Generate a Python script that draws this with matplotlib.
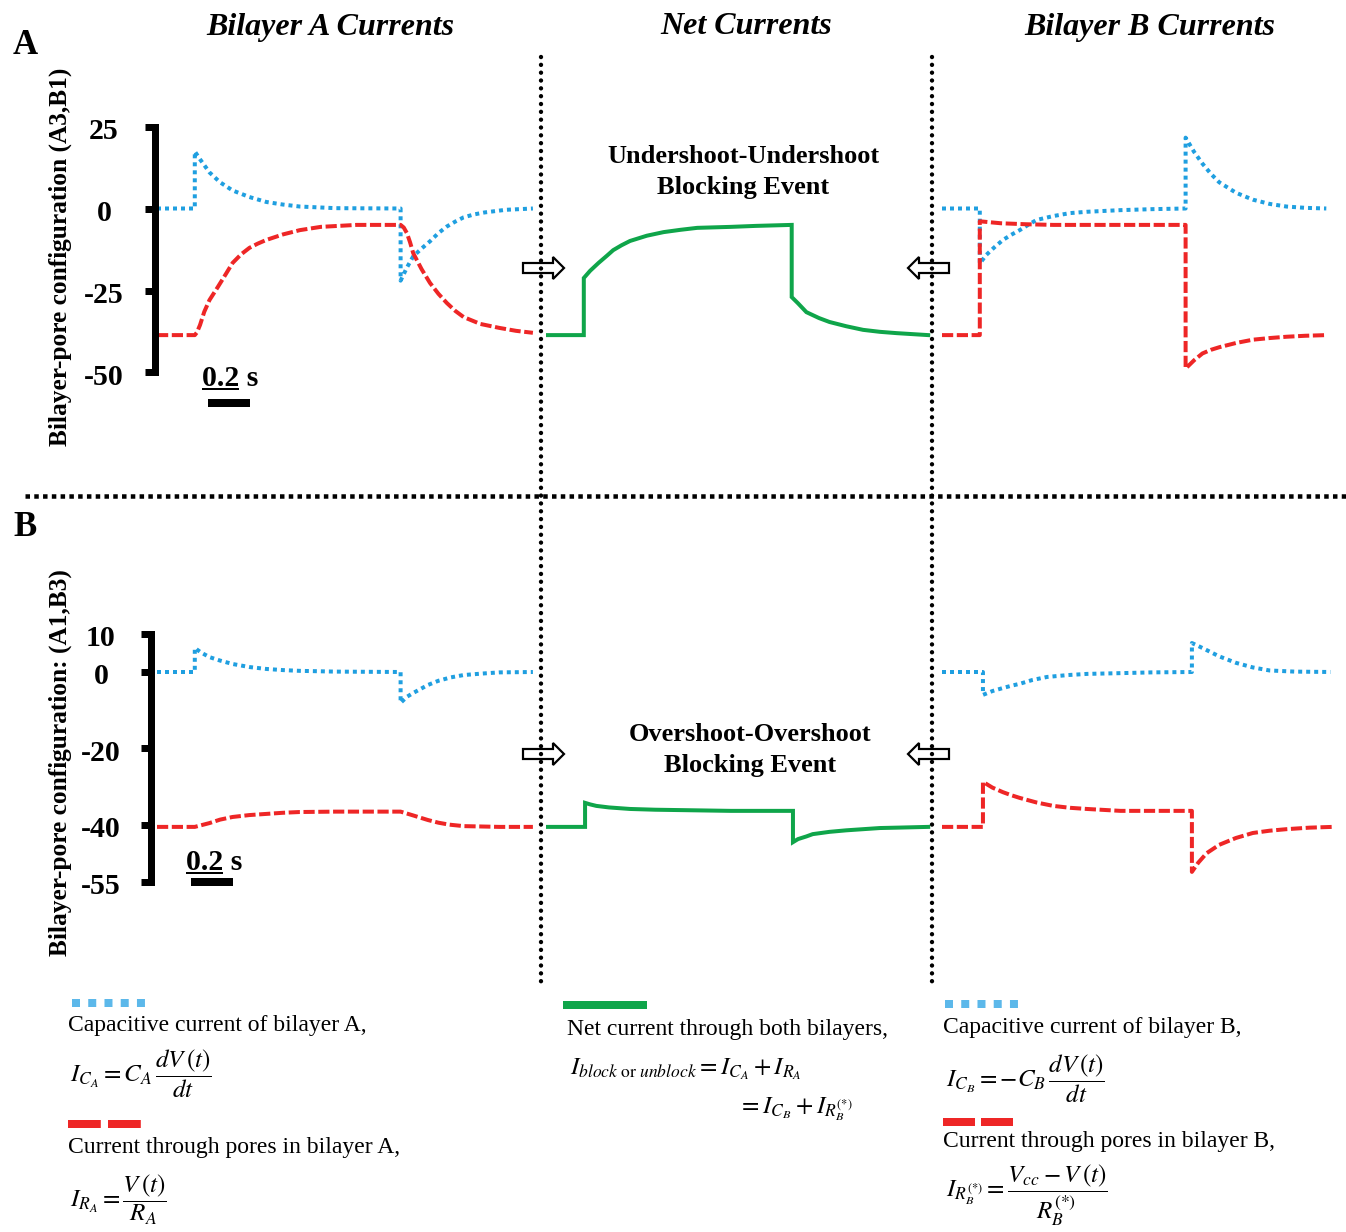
import matplotlib.pyplot as plt
import matplotlib.transforms as mtransforms
from matplotlib.patches import FancyArrow

plt.rcParams['font.family'] = ['Liberation Serif', 'DejaVu Serif']
plt.rcParams['mathtext.fontset'] = 'stix'

# ---- values: time (s) from trace start, current ----
# Panel A, configuration (A3,B1): undershoot-undershoot blocking event
a_ticks = [25, 0, -25, -50]
a_capA_t = [0, 0.18, 0.18, 0.205, 0.25, 0.30, 0.36, 0.44, 0.52, 0.60, 0.68, 0.85, 1.16,
            1.16, 1.19, 1.22, 1.26, 1.30, 1.34, 1.38, 1.42, 1.46, 1.51, 1.56, 1.66, 1.79]
a_capA_i = [0, 0, 17.4, 15.0, 11.0, 8.0, 5.5, 3.5, 2.0, 1.2, 0.6, 0.1, 0,
            -22.0, -18.0, -14.6, -12.2, -10.0, -7.5, -5.5, -4.0, -2.7, -1.8, -1.2, -0.4, 0]
a_poreA_t = [0, 0.18, 0.19, 0.205, 0.225, 0.25, 0.29, 0.32, 0.36, 0.40, 0.44, 0.48, 0.52, 0.60,
             0.68, 0.78, 0.95, 1.16, 1.175, 1.19, 1.205, 1.22, 1.26, 1.30, 1.34, 1.38, 1.42,
             1.46, 1.54, 1.63, 1.71, 1.79]
a_poreA_i = [-38.6, -38.6, -37.8, -35.5, -31.5, -27.9, -23.9, -20.8, -16.6, -14.0, -12.0, -10.7,
             -9.6, -7.9, -6.6, -5.6, -5.0, -5.0, -5.8, -7.5, -10.3, -13.6, -18.5, -22.7, -26.0,
             -28.8, -31.2, -33.1, -35.2, -36.4, -37.3, -37.9]
a_net_t = [0, 0.18, 0.18, 0.21, 0.25, 0.29, 0.32, 0.36, 0.40, 0.48, 0.56, 0.64, 0.72, 0.88, 1.00,
           1.17, 1.17, 1.20, 1.24, 1.30, 1.35, 1.43, 1.51, 1.59, 1.67, 1.82]
a_net_i = [-38.6, -38.6, -21.2, -19.0, -16.6, -14.4, -12.7, -11.2, -9.9, -8.3, -7.2, -6.5, -5.9,
           -5.6, -5.3, -5.0, -27.0, -28.9, -31.6, -33.4, -34.6, -35.9, -37.0, -37.6, -38.0, -38.6]
a_capB_t = [0, 0.18, 0.18, 0.21, 0.25, 0.29, 0.33, 0.37, 0.41, 0.45, 0.53, 0.61, 0.69, 0.85, 1.00,
            1.16, 1.16, 1.20, 1.24, 1.28, 1.32, 1.40, 1.48, 1.56, 1.64, 1.73, 1.83]
a_capB_i = [0, 0, -16.8, -14.2, -11.8, -9.6, -8.0, -6.6, -5.0, -3.5, -2.3, -1.4, -1.0, -0.5, -0.2,
            0, 21.6, 17.3, 13.7, 10.6, 8.0, 4.8, 2.7, 1.4, 0.6, 0.2, 0]
a_poreB_t = [0, 0.18, 0.18, 0.23, 0.28, 0.40, 0.53, 1.16, 1.16, 1.20, 1.24, 1.28, 1.32, 1.40,
             1.48, 1.56, 1.64, 1.73, 1.83]
a_poreB_i = [-38.6, -38.6, -3.9, -4.2, -4.5, -4.8, -5.0, -5.0, -48.8, -46.3, -44.2, -43.1, -42.3,
             -41.0, -40.0, -39.5, -39.1, -38.8, -38.6]

# Panel B, configuration (A1,B3): overshoot-overshoot blocking event
b_ticks = [10, 0, -20, -40, -55]
b_capA_t = [0, 0.18, 0.18, 0.21, 0.25, 0.30, 0.36, 0.44, 0.52, 0.60, 0.68, 0.85, 1.16,
            1.16, 1.19, 1.22, 1.26, 1.29, 1.34, 1.40, 1.46, 1.55, 1.63, 1.79]
b_capA_i = [0, 0, 6.3, 5.1, 3.9, 3.0, 2.1, 1.3, 0.8, 0.5, 0.3, 0.1, 0,
            -8.1, -6.5, -5.5, -4.3, -3.4, -2.3, -1.4, -0.8, -0.4, -0.1, 0]
b_poreA_t = [0, 0.18, 0.215, 0.25, 0.30, 0.36, 0.44, 0.52, 0.60, 0.68, 0.85, 1.16, 1.22, 1.29,
             1.34, 1.39, 1.46, 1.55, 1.63, 1.79]
b_poreA_i = [-40.6, -40.6, -40.1, -39.6, -38.7, -38.0, -37.5, -37.2, -36.9, -36.7, -36.6, -36.6,
             -37.6, -38.8, -39.5, -40.0, -40.4, -40.5, -40.6, -40.6]
b_net_t = [0, 0.186, 0.186, 0.21, 0.24, 0.30, 0.40, 0.52, 0.64, 0.88, 1.176, 1.176, 1.20, 1.24,
           1.27, 1.35, 1.43, 1.51, 1.59, 1.67, 1.82]
b_net_i = [-40.6, -40.6, -34.3, -34.7, -35.1, -35.5, -35.9, -36.1, -36.2, -36.4, -36.4, -44.6,
           -43.8, -43.1, -42.5, -41.9, -41.5, -41.2, -40.9, -40.8, -40.6]
b_capB_t = [0, 0.195, 0.195, 0.24, 0.29, 0.33, 0.37, 0.43, 0.50, 0.60, 0.69, 0.85, 1.00, 1.19,
            1.19, 1.24, 1.32, 1.40, 1.48, 1.56, 1.68, 1.85]
b_capB_i = [0, 0, -6.0, -5.0, -4.2, -3.6, -3.1, -2.1, -1.3, -0.8, -0.5, -0.3, -0.1, 0,
            7.6, 6.3, 4.1, 2.4, 1.2, 0.4, 0.1, 0]
b_poreB_t = [0, 0.195, 0.195, 0.24, 0.29, 0.33, 0.37, 0.45, 0.53, 0.61, 0.69, 0.85, 1.19,
             1.19, 1.22, 1.26, 1.32, 1.40, 1.48, 1.56, 1.64, 1.75, 1.86]
b_poreB_i = [-40.6, -40.6, -28.8, -30.3, -31.5, -32.3, -33.0, -34.2, -35.1, -35.6, -35.9, -36.4,
             -36.4, -52.4, -50.0, -47.5, -45.3, -43.5, -42.2, -41.6, -41.2, -40.8, -40.6]

BLUE = '#1f9fe0'
RED = '#ee2626'
GREEN = '#0fa54a'
KEY_BLUE = '#5cb8ea'

W, H = 1346, 1232
PX = 72 / 100          # one pixel in points
SEC = 210              # pixels per second on the time axis
col_x = [157, 546, 942]

fig = plt.figure(figsize=(W / 100, H / 100), dpi=100)

# overlay in pixel units: dividers, titles, arrows, key
ov = fig.add_axes([0, 0, 1, 1])
ov.set_xlim(0, W)
ov.set_ylim(H, 0)
ov.axis('off')


def trace_axes(x0, top, bottom, zero, scale):
    ax = fig.add_axes([x0 / W, 1 - bottom / H, 1.9 * SEC / W, (bottom - top) / H])
    ax.set_xlim(0, 1.9)
    ax.set_ylim((zero - bottom) / scale, (zero - top) / scale)
    ax.axis('off')
    ax.patch.set_alpha(0)
    return ax


cap_kw = dict(color=BLUE, lw=4 * PX, ls=(0, (1, 1)))
pore_kw = dict(color=RED, lw=4 * PX, ls=(0, (2.8, 0.9)))
net_kw = dict(color=GREEN, lw=4 * PX, solid_joinstyle='miter')

rowA = [trace_axes(x, 100, 420, 208.5, 3.28) for x in col_x]
rowA[0].plot(a_capA_t, a_capA_i, **cap_kw)
rowA[0].plot(a_poreA_t, a_poreA_i, **pore_kw)
rowA[1].plot(a_net_t, a_net_i, **net_kw)
rowA[2].plot(a_capB_t, a_capB_i, **cap_kw)
rowA[2].plot(a_poreB_t, a_poreB_i, **pore_kw)

rowB = [trace_axes(x, 590, 930, 672, 3.815) for x in col_x]
rowB[0].plot(b_capA_t, b_capA_i, **cap_kw)
rowB[0].plot(b_poreA_t, b_poreA_i, **pore_kw)
rowB[1].plot(b_net_t, b_net_i, **net_kw)
rowB[2].plot(b_capB_t, b_capB_i, **cap_kw)
rowB[2].plot(b_poreB_t, b_poreB_i, **pore_kw)

bold = dict(fontweight='bold', color='black')
sec_labels = []


def scale_bars(ax, ticks, bar_x, lab_x, t0, bar_y, lab_xy):
    # current scale on the left: x in pixels, y in current units
    tr = mtransforms.blended_transform_factory(ov.transData, ax.transData)
    ax.plot([bar_x, bar_x], [min(ticks), max(ticks)], transform=tr, color='k',
            lw=7 * PX, solid_capstyle='projecting', clip_on=False)
    lab_tr = mtransforms.offset_copy(tr, fig=fig, x=0, y=-5, units='dots')
    for v in ticks:
        ax.plot([bar_x - 10, bar_x + 3], [v, v], transform=tr, color='k',
                lw=7 * PX, solid_capstyle='butt', clip_on=False)
        ax.text(lab_x, v, str(v), transform=lab_tr, ha='center', va='center',
                fontsize=21.5, **bold)
    # 0.2 s time bar: x in seconds, y in pixels
    tr2 = mtransforms.blended_transform_factory(ax.transData, ov.transData)
    ax.plot([t0, t0 + 0.2], [bar_y, bar_y], transform=tr2, color='k',
            lw=8 * PX, solid_capstyle='butt', clip_on=False)
    ov.text(lab_xy[0], lab_xy[1], '0.2 s', ha='left', va='center', fontsize=21.5, **bold)
    sec_labels.append(ov.text(lab_xy[0], lab_xy[1], '0.2', ha='left', va='center',
                              fontsize=21.5, alpha=0, **bold))


scale_bars(rowA[0], a_ticks, 155, 104, 0.243, 403, (202, 378))
scale_bars(rowB[0], b_ticks, 151, 101, 0.162, 882, (186, 862))

# y labels
ov.text(60, 257, 'Bilayer-pore configuration (A3,B1)', rotation=90, ha='center',
        va='center', fontsize=18.3, **bold)
ov.text(60, 763, 'Bilayer-pore configuration: (A1,B3)', rotation=90, ha='center',
        va='center', fontsize=18.3, **bold)

# panel letters and column titles
ov.text(25, 45, 'A', ha='center', va='center', fontsize=25, **bold)
ov.text(25, 527, 'B', ha='center', va='center', fontsize=25, **bold)
for x, s in [(330, 'Bilayer A Currents'), (746, 'Net Currents'), (1150, 'Bilayer B Currents')]:
    ov.text(x, 27, s, ha='center', va='center', fontsize=23, style='italic', **bold)

ov.text(743, 172, 'Undershoot-Undershoot\nBlocking Event', ha='center', va='center',
        fontsize=19, linespacing=1.42, **bold)
ov.text(750, 750, 'Overshoot-Overshoot\nBlocking Event', ha='center', va='center',
        fontsize=19, linespacing=1.42, **bold)

# hollow arrows pointing at the net current
arrow_kw = dict(width=10, head_width=22, head_length=11, length_includes_head=True,
                fc='white', ec='black', lw=2.2 * PX, zorder=2)
for y in (268, 754):
    ov.add_patch(FancyArrow(523, y, 41, 0, **arrow_kw))
    ov.add_patch(FancyArrow(949, y, -41, 0, **arrow_kw))

# dotted dividers
for x in (541, 932):
    ov.plot([x, x], [57, 985], color='k', lw=4.4 * PX, ls=(0, (0.01, 1.77)),
            dash_capstyle='round', zorder=3)
ov.plot([25, W], [496, 496], color='k', lw=4.5 * PX, ls=(0, (1, 0.95)), zorder=3)

# key
ov.plot([72, 145], [1003, 1003], color=KEY_BLUE, lw=8 * PX, ls=(0, (1, 1.03)))
ov.plot([68, 141], [1124, 1124], color=RED, lw=8 * PX, ls=(0, (4.1, 0.9)))
ov.plot([567, 643], [1005, 1005], color=GREEN, lw=8 * PX)
ov.plot([945, 1018], [1004, 1004], color=KEY_BLUE, lw=8 * PX, ls=(0, (1, 1.03)))
ov.plot([943, 1013], [1122, 1122], color=RED, lw=8 * PX, ls=(0, (4.0, 0.75)))

txt = dict(fontsize=17, ha='left', va='center')
mth = dict(fontsize=18, ha='left', va='center')
ov.text(68, 1025, 'Capacitive current of bilayer A,', **txt)
ov.text(70, 1074, r'$I_{C_A}=C_A\,\dfrac{dV\,(t)}{dt}$', **mth)
ov.text(68, 1148, 'Current through pores in bilayer A,', **txt)
ov.text(70, 1200, r'$I_{R_A}=\dfrac{V\,(t)}{R_A}$', **mth)

ov.text(567, 1030, 'Net current through both bilayers,', **txt)
ov.text(570, 1069, r'$I_{block\ \mathrm{or}\ unblock}=I_{C_A}+I_{R_A}$', **mth)
ov.text(738, 1109, r'$=I_{C_B}+I_{R_B^{(*)}}$', **mth)

ov.text(943, 1027, 'Capacitive current of bilayer B,', **txt)
ov.text(946, 1079, r'$I_{C_B}=-C_B\,\dfrac{dV\,(t)}{dt}$', **mth)
ov.text(943, 1142, 'Current through pores in bilayer B,', **txt)
ov.text(946, 1195, r'$I_{R_B^{(*)}}=\dfrac{V_{cc}-V\,(t)}{R_B^{(*)}}$', **mth)

# underline the "0.2" of the time bar labels
fig.canvas.draw()
inv = ov.transData.inverted()
for t in sec_labels:
    bb = t.get_window_extent().transformed(inv)
    y = max(bb.y0, bb.y1) - 3
    ov.plot([bb.x0 + 1, bb.x1 - 1], [y, y], color='k', lw=2 * PX)

fig.savefig('out.png', dpi=100)
